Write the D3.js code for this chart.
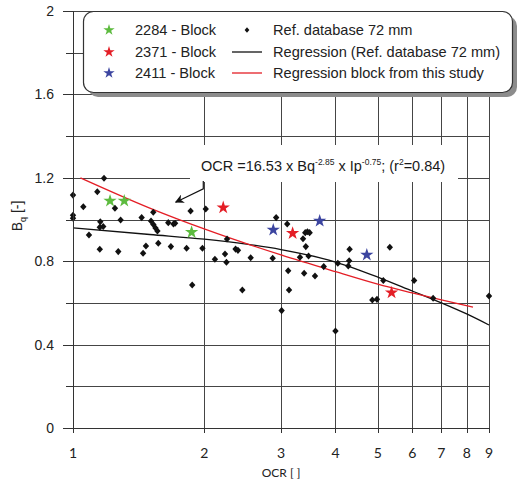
<!DOCTYPE html>
<html>
<head>
<meta charset="utf-8">
<script src="https://cdn.jsdelivr.net/npm/d3@7"></script>
<style>
  body { margin: 0; background: #fff; }
  svg { display: block; }
</style>
</head>
<body>
<svg id="chart" width="518" height="481"></svg>
<script>
// ---- data ----
const xTickValues = [1, 2, 3, 4, 5, 6, 7, 8, 9];
const yLabelValues = [0, 0.4, 0.8, 1.2, 1.6, 2];
const yGridValues = [0.2, 0.4, 0.6, 0.8, 1.0, 1.2, 1.4, 1.6, 1.8, 2.0];
const yMinorTicks = [0.2, 0.6, 1.0, 1.4, 1.8];

// Reference database (72 mm)
const refOCR = [1.0, 1.0, 1.0, 1.056, 1.178, 1.137, 1.088, 1.155, 1.152, 1.173,
  1.152, 1.248, 1.286, 1.270, 1.437, 1.528, 1.510, 1.529, 1.546, 1.562,
  1.470, 1.448, 1.569, 1.654, 1.70, 1.715, 1.677, 1.822, 1.861, 1.877,
  1.981, 2.016, 2.116, 2.232, 2.249, 2.256, 2.36, 2.39, 2.446, 2.556,
  2.871, 2.924, 3.10, 3.41, 3.45, 3.49, 3.37, 3.42, 3.47, 3.316,
  3.116, 3.13, 3.01, 3.39, 3.59, 3.76, 4.05, 4.28, 4.30, 4.31,
  5.15, 5.33, 4.86, 4.98, 6.06, 6.70, 9.0, 4.0];
const refBq = [1.117, 1.02, 1.006, 1.061, 1.198, 1.133, 0.926, 0.989, 0.963, 0.966,
  0.857, 1.054, 0.998, 0.846, 1.009, 1.035, 0.993, 0.976, 0.959, 0.945,
  0.873, 0.838, 0.886, 0.985, 0.978, 0.982, 0.870, 0.862, 1.041, 0.686,
  0.862, 1.050, 0.809, 0.835, 0.795, 0.906, 0.858, 0.852, 0.662, 0.817,
  0.814, 1.009, 0.978, 0.937, 0.941, 0.937, 0.908, 0.870, 0.825, 0.819,
  0.754, 0.662, 0.563, 0.742, 0.729, 0.774, 0.790, 0.777, 0.802, 0.857,
  0.707, 0.867, 0.614, 0.617, 0.707, 0.622, 0.633, 0.465];

// Block samples
const block2284OCR = [1.216, 1.311, 1.871];
const block2284Bq = [1.089, 1.089, 0.939];
const block2371OCR = [2.211, 3.19, 5.38];
const block2371Bq = [1.057, 0.934, 0.649];
const block2411OCR = [2.88, 3.68, 4.72];
const block2411Bq = [0.950, 0.993, 0.830];

// Regression curves
const regRefOCR = [1, 1.5, 2, 2.5, 3, 4, 5, 6, 7, 8, 9];
const regRefBq = [0.96, 0.928, 0.906, 0.882, 0.856, 0.796, 0.724, 0.657, 0.600, 0.547, 0.494];
const regBlockOCR = [1.04, 1.5, 2, 3, 4, 5, 6, 7, 8.27];
const regBlockBq = [1.2, 1.055, 0.955, 0.83, 0.75, 0.69, 0.648, 0.614, 0.58];

const blockNames = ["2284 - Block", "2371 - Block", "2411 - Block"];
const blockColors = ["#5dbb3f", "#e41e26", "#3c45a0"];

// ---- layout ----
const svg = d3.select("#chart");
const x = d3.scaleLog().domain([1, 9]).range([73, 489]);
const y = d3.scaleLinear().domain([0, 2]).range([428, 11]);
const gridColor = "#454545";
const arial = "'Liberation Sans', Arial, sans-serif";
const calib = "Lato, 'Open Sans', sans-serif";

// grid
const grid = svg.append("g").attr("stroke", gridColor).attr("stroke-width", 1).attr("shape-rendering", "crispEdges");
grid.selectAll(".h").data(yGridValues).join("line")
  .attr("x1", x(1)).attr("x2", x(9))
  .attr("y1", d => Math.round(y(d)) + 0.5).attr("y2", d => Math.round(y(d)) + 0.5);
grid.selectAll(".v").data(xTickValues.slice(1)).join("line")
  .attr("x1", d => Math.round(x(d)) + 0.5).attr("x2", d => Math.round(x(d)) + 0.5)
  .attr("y1", y(0)).attr("y2", y(2));

// equation label box (white, hides grid)
const eqBox = svg.append("g");
eqBox.append("rect")
  .attr("x", 190).attr("y", 145).attr("width", 268).attr("height", 37)
  .attr("fill", "#fff");
const eq = eqBox.append("text")
  .attr("x", 201).attr("y", 170.5)
  .attr("font-family", arial).attr("font-size", 14.5).attr("fill", "#1a1a1a");
eq.append("tspan").text("OCR =16.53 x Bq");
eq.append("tspan").attr("font-size", 8.5).attr("dy", -6).text("-2.85");
eq.append("tspan").attr("dy", 6).text(" x Ip");
eq.append("tspan").attr("font-size", 8.5).attr("dy", -6).text("-0.75");
eq.append("tspan").attr("dy", 6).text("; (r");
eq.append("tspan").attr("font-size", 8.5).attr("dy", -6).text("2");
eq.append("tspan").attr("dy", 6).text("=0.84)");

// leader arrow from the equation to the block regression
svg.append("defs").append("marker")
  .attr("id", "arrowHead").attr("viewBox", "0 0 10 10")
  .attr("refX", 9).attr("refY", 5)
  .attr("markerWidth", 9).attr("markerHeight", 9)
  .attr("markerUnits", "userSpaceOnUse").attr("orient", "auto")
  .append("path").attr("d", "M0,0L10,5L0,10L3,5Z").attr("fill", "#111");
const leaderOCR = [1.99, 1.99, 1.72];
const leaderBq = [1.185, 1.147, 1.083];
svg.append("path")
  .attr("d", d3.line()(leaderOCR.map((o, i) => [x(o), y(leaderBq[i])])))
  .attr("fill", "none").attr("stroke", "#111").attr("stroke-width", 1.2)
  .attr("marker-end", "url(#arrowHead)");

// regression lines
const line = d3.line().x(d => x(d[0])).y(d => y(d[1])).curve(d3.curveMonotoneX);
svg.append("path")
  .attr("d", line(regRefOCR.map((o, i) => [o, regRefBq[i]])))
  .attr("fill", "none").attr("stroke", "#111").attr("stroke-width", 1.3);
svg.append("path")
  .attr("d", line(regBlockOCR.map((o, i) => [o, regBlockBq[i]])))
  .attr("fill", "none").attr("stroke", "#e41e26").attr("stroke-width", 1.3);

// reference points (diamonds)
const diamond = s => `M0,${-s * 1.1}L${s},0L0,${s * 1.1}L${-s},0Z`;
svg.append("g").selectAll("path").data(refOCR.map((o, i) => [o, refBq[i]])).join("path")
  .attr("transform", d => `translate(${x(d[0])},${y(d[1])})`)
  .attr("d", diamond(3.2)).attr("fill", "#111");

// block stars
const star = d3.symbol().type(d3.symbolStar);
const blocks = [
  [block2284OCR, block2284Bq],
  [block2371OCR, block2371Bq],
  [block2411OCR, block2411Bq]
];
blocks.forEach((b, k) => {
  svg.append("g").selectAll("path").data(b[0].map((o, i) => [o, b[1][i]])).join("path")
    .attr("transform", d => `translate(${x(d[0])},${y(d[1])})`)
    .attr("d", star.size(55)()).attr("fill", blockColors[k]);
});

// axes
const axes = svg.append("g").attr("stroke", "#333").attr("stroke-width", 1).attr("shape-rendering", "crispEdges");
axes.append("line").attr("x1", 63).attr("x2", x(9)).attr("y1", Math.round(y(0)) + 0.5).attr("y2", Math.round(y(0)) + 0.5);
axes.append("line").attr("x1", Math.round(x(1)) + 0.5).attr("x2", Math.round(x(1)) + 0.5).attr("y1", y(0) + 5).attr("y2", y(2));
axes.selectAll(".ym").data(yLabelValues).join("line")
  .attr("x1", 63).attr("x2", x(1))
  .attr("y1", d => Math.round(y(d)) + 0.5).attr("y2", d => Math.round(y(d)) + 0.5);
axes.selectAll(".yn").data(yMinorTicks).join("line")
  .attr("x1", 66).attr("x2", x(1))
  .attr("y1", d => Math.round(y(d)) + 0.5).attr("y2", d => Math.round(y(d)) + 0.5);
axes.selectAll(".xt").data(xTickValues).join("line")
  .attr("x1", d => Math.round(x(d)) + 0.5).attr("x2", d => Math.round(x(d)) + 0.5)
  .attr("y1", y(0)).attr("y2", y(0) + 5);

// tick labels
svg.append("g").selectAll("text").data(yLabelValues).join("text")
  .attr("x", 54).attr("y", d => y(d) + 5)
  .attr("text-anchor", "end").attr("font-family", arial).attr("font-size", 14).attr("fill", "#222")
  .text(d => d3.format("~g")(d));
svg.append("g").selectAll("text").data(xTickValues).join("text")
  .attr("x", d => x(d)).attr("y", 458)
  .attr("text-anchor", "middle").attr("font-family", calib).attr("font-size", 14).attr("fill", "#222")
  .text(d => d);

// axis titles
svg.append("text").attr("x", x(3)).attr("y", 477)
  .attr("text-anchor", "middle").attr("font-family", calib).attr("font-size", 12).attr("fill", "#222")
  .text("OCR [ ]");
const yt = svg.append("text")
  .attr("transform", "translate(22,216) rotate(-90)")
  .attr("text-anchor", "middle").attr("font-family", arial).attr("font-size", 14).attr("fill", "#222");
yt.append("tspan").text("B");
yt.append("tspan").attr("font-size", 9).attr("dy", 4).text("q");
yt.append("tspan").attr("dy", -4).text(" [-]");

// legend
const lg = svg.append("g");
lg.append("rect").attr("x", 88).attr("y", 16).attr("width", 429).attr("height", 81)
  .attr("rx", 10).attr("fill", "#8c8c8c");
lg.append("rect").attr("x", 83.5).attr("y", 11.5).attr("width", 429).attr("height", 81)
  .attr("rx", 10).attr("fill", "#fff").attr("stroke", "#333").attr("stroke-width", 1.2);
const rowY = [30, 52, 73];
blockNames.forEach((name, k) => {
  lg.append("path").attr("transform", `translate(109,${rowY[k]})`)
    .attr("d", star.size(40)()).attr("fill", blockColors[k]);
  lg.append("text").attr("x", 135).attr("y", rowY[k] + 5)
    .attr("font-family", arial).attr("font-size", 14.6).attr("fill", "#222").text(name);
});
lg.append("path").attr("transform", `translate(247,${rowY[0]})`).attr("d", diamond(2.4)).attr("fill", "#111");
lg.append("line").attr("x1", 232).attr("x2", 262).attr("y1", rowY[1]).attr("y2", rowY[1])
  .attr("stroke", "#111").attr("stroke-width", 1.3);
lg.append("line").attr("x1", 232).attr("x2", 262).attr("y1", rowY[2]).attr("y2", rowY[2])
  .attr("stroke", "#e41e26").attr("stroke-width", 1.3);
const legendText = ["Ref. database 72 mm", "Regression (Ref. database 72 mm)", "Regression block from this study"];
legendText.forEach((t, k) => {
  lg.append("text").attr("x", 273).attr("y", rowY[k] + 5)
    .attr("font-family", arial).attr("font-size", 14.6).attr("fill", "#222").text(t);
});
</script>
</body>
</html>
